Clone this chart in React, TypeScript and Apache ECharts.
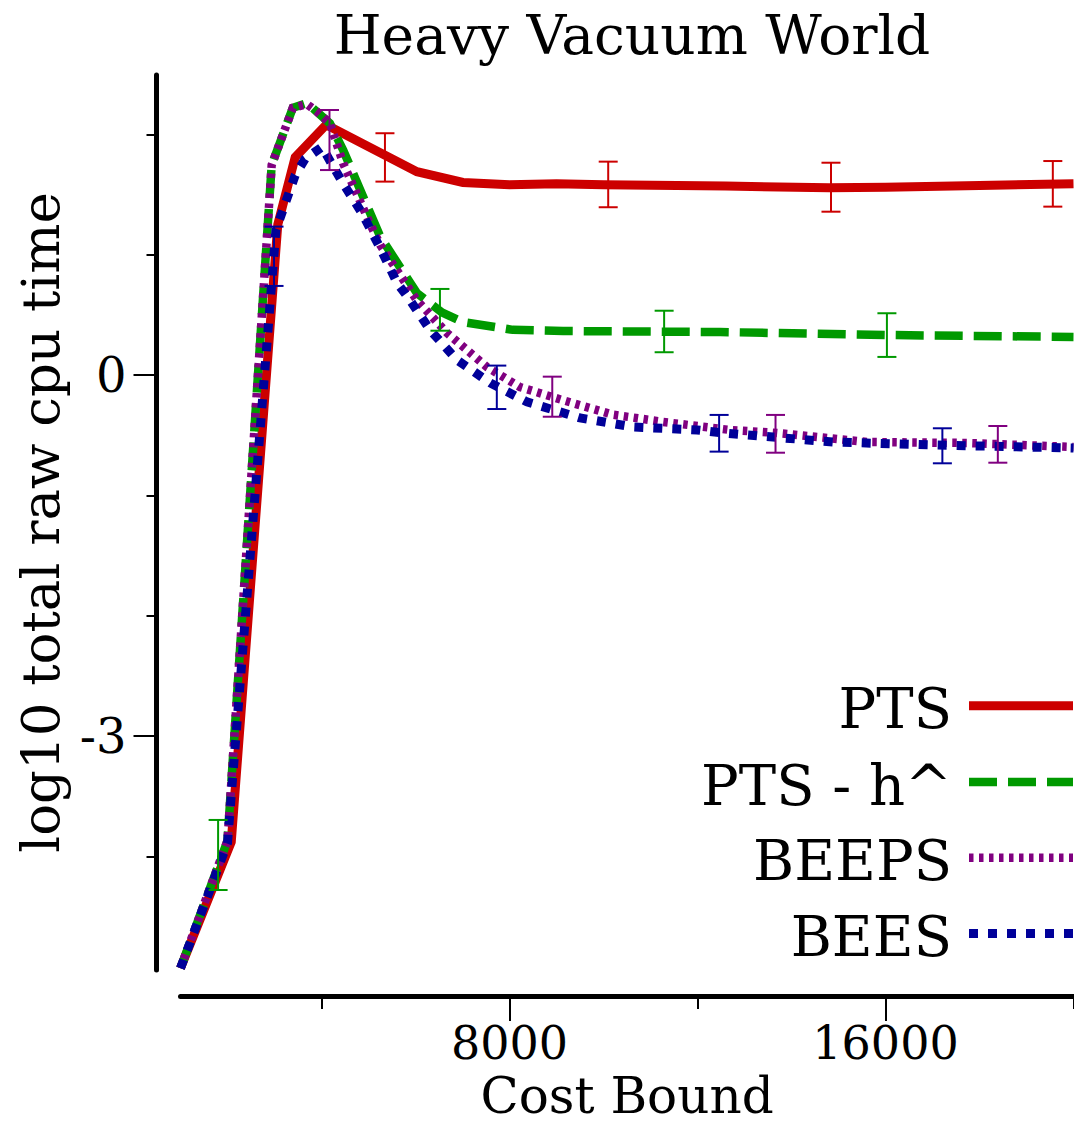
import React, { useEffect, useRef } from 'react';
import * as echarts from 'echarts';

const FONT = '"DejaVu Serif", "Liberation Serif", serif';

const seriesNames = ['PTS', 'PTS - h^', 'BEEPS', 'BEES'];
const seriesColors = ['#cc0000', '#009900', '#800080', '#000099'];

const redX = [1000, 2080, 3070, 3440, 4100, 6030, 7010, 8000, 9000, 10000, 12600, 14800, 16000, 18000, 20000];
const redY = [-4.93, -3.88, 1.25, 1.81, 2.08, 1.69, 1.6, 1.58, 1.59, 1.58, 1.57, 1.555, 1.56, 1.575, 1.59];

const greenX = [1000, 2000, 2940, 3390, 3690, 4180, 4460, 5030, 5250, 6030, 6560, 7010, 8070, 9140, 12480, 16030, 20000];
const greenY = [-4.93, -3.87, 1.745, 2.22, 2.26, 2.09, 1.87, 1.35, 1.15, 0.68, 0.52, 0.44, 0.375, 0.365, 0.357, 0.332, 0.316];

const purpleX = [1000, 2000, 2940, 3390, 3690, 3900, 4180, 4460, 5030, 5250, 6030, 6670, 7520, 8220, 9140, 10200, 11270, 12690, 13690, 15610, 17730, 20000];
const purpleY = [-4.93, -3.87, 1.745, 2.22, 2.25, 2.19, 2.09, 1.76, 1.26, 1.08, 0.62, 0.35, 0.066, -0.1, -0.21, -0.33, -0.39, -0.457, -0.482, -0.557, -0.565, -0.598];

const blueX = [1000, 2000, 3030, 3440, 3650, 4010, 4440, 4860, 5250, 5610, 5880, 6310, 6880, 7590, 8370, 9500, 10630, 11990, 12540, 14880, 17010, 20000];
const blueY = [-4.93, -3.89, 1.205, 1.66, 1.795, 1.895, 1.604, 1.346, 1.055, 0.765, 0.623, 0.374, 0.125, -0.066, -0.224, -0.357, -0.432, -0.457, -0.482, -0.557, -0.582, -0.607];

// error bars: [x, low, high]
const redErr = [[5350, 1.607, 2.009], [10100, 1.394, 1.773], [14840, 1.357, 1.764], [19560, 1.399, 1.778]];
const greenErr = [[1800, -4.28, -3.698], [6520, 0.368, 0.715], [11290, 0.189, 0.534], [16030, 0.15, 0.513]];
const purpleErr = [[4170, 1.703, 2.202], [8910, -0.347, -0.014], [13660, -0.646, -0.332], [18390, -0.729, -0.424]];
const blueErr = [[2990, 0.74, 1.233], [7730, -0.283, 0.078], [12460, -0.637, -0.332], [17210, -0.734, -0.443]];

const xMinorTicks = [4000, 12000, 20000];
const xMajorTicks = [8000, 16000];
const yMinorTicks = [-4, -2, -1, 1, 2];
const yMajorTicks = [-3, 0];

const title = 'Heavy Vacuum World';
const xName = 'Cost Bound';
const yName = 'log10 total raw cpu time';

const zip = (xs: number[], ys: number[]) => xs.map((x, i) => [x, ys[i]]);

const lineData = [zip(redX, redY), zip(greenX, greenY), zip(purpleX, purpleY), zip(blueX, blueY)];
const errData = [redErr, greenErr, purpleErr, blueErr];
const lineTypes: any[] = ['solid', [28, 11], [4.5, 5.5], [9, 10]];
const lineWidths = [9, 8.5, 8.5, 9];

export default function App() {
  const ref = useRef<HTMLDivElement>(null);
  useEffect(() => {
    if (!ref.current) return;
    const chart = echarts.init(ref.current, undefined, { renderer: 'svg' });

    const lineSeries = lineData.map((d, i) => ({
      type: 'line',
      name: seriesNames[i],
      data: d,
      xAxisIndex: 0,
      yAxisIndex: 0,
      showSymbol: false,
      symbol: 'none',
      z: 2 + i,
      lineStyle: { color: seriesColors[i], width: lineWidths[i], type: lineTypes[i], cap: 'butt', join: 'miter' },
      itemStyle: { color: seriesColors[i] },
    }));

    const errSeries = errData.map((d, i) => ({
      type: 'custom',
      name: seriesNames[i] + ' err',
      data: d,
      xAxisIndex: 0,
      yAxisIndex: 0,
      z: 10,
      encode: { x: 0, y: [1, 2] },
      renderItem: (params: any, api: any) => {
        const x = api.value(0);
        const lo = api.coord([x, api.value(1)]);
        const hi = api.coord([x, api.value(2)]);
        const hw = 9.5;
        const st = { stroke: seriesColors[i], lineWidth: 2 };
        return {
          type: 'group',
          children: [
            { type: 'line', shape: { x1: lo[0], y1: lo[1], x2: hi[0], y2: hi[1] }, style: st },
            { type: 'line', shape: { x1: lo[0] - hw, y1: lo[1], x2: lo[0] + hw, y2: lo[1] }, style: st },
            { type: 'line', shape: { x1: hi[0] - hw, y1: hi[1], x2: hi[0] + hw, y2: hi[1] }, style: st },
          ],
        };
      },
    }));

    const legendY = [705.7, 782, 857.7, 933.5];
    const legendGraphics: any[] = [];
    seriesNames.forEach((n, i) => {
      legendGraphics.push({
        type: 'text',
        x: 952,
        y: legendY[i] + 3,
        style: {
          text: n,
          fill: '#000',
          font: `56px ${FONT}`,
          textAlign: 'right',
          textVerticalAlign: 'middle',
        },
      });
      legendGraphics.push({
        type: 'line',
        shape: { x1: 969, y1: legendY[i], x2: 1073, y2: legendY[i] },
        style: {
          stroke: seriesColors[i],
          lineWidth: lineWidths[i],
          lineDash: lineTypes[i] === 'solid' ? null : lineTypes[i],
        },
      });
    });

    const fmt = (v: number) => String(v);

    const option: any = {
      animation: false,
      backgroundColor: '#fff',
      title: {
        text: title,
        left: 627,
        top: 2,
        textAlign: 'center',
        textStyle: { fontFamily: FONT, fontSize: 55, fontWeight: 'normal', color: '#000' },
      },
      grid: { left: 180.5, right: 0.5, top: 75, bottom: 156, containLabel: false, outerBoundsMode: 'none' },
      xAxis: [
        {
          type: 'value', min: 1000, max: 20000, position: 'bottom', offset: 26,
          axisLine: { show: true, onZero: false, lineStyle: { color: '#000', width: 5 } },
          axisTick: { show: true, length: 13, customValues: xMinorTicks, lineStyle: { color: '#000', width: 2 } },
          axisLabel: { show: false },
          splitLine: { show: false },
        },
        {
          type: 'value', min: 1000, max: 20000, position: 'bottom', offset: 26,
          axisLine: { show: false, onZero: false },
          axisTick: { show: true, length: 25, customValues: xMajorTicks, lineStyle: { color: '#000', width: 2 } },
          axisLabel: { show: true, customValues: xMajorTicks, formatter: fmt, margin: 24, fontFamily: FONT, fontSize: 46, lineHeight: 46, color: '#000' },
          splitLine: { show: false },
          name: xName,
          nameLocation: 'middle',
          nameGap: 75,
          nameMoveOverlap: false,
          nameTextStyle: { fontFamily: FONT, fontSize: 50, lineHeight: 50, color: '#000' },
        },
      ],
      yAxis: [
        {
          type: 'value', min: -4.945, max: 2.493, position: 'left', offset: 24,
          axisLine: { show: true, onZero: false, lineStyle: { color: '#000', width: 5 } },
          axisTick: { show: true, length: 10, customValues: yMinorTicks, lineStyle: { color: '#000', width: 2 } },
          axisLabel: { show: false },
          splitLine: { show: false },
        },
        {
          type: 'value', min: -4.945, max: 2.493, position: 'left', offset: 24,
          axisLine: { show: false, onZero: false },
          axisTick: { show: true, length: 23, customValues: yMajorTicks, lineStyle: { color: '#000', width: 2 } },
          axisLabel: { show: true, customValues: yMajorTicks, formatter: fmt, margin: 30, fontFamily: FONT, fontSize: 48, color: '#000' },
          splitLine: { show: false },
          name: yName,
          nameLocation: 'middle',
          nameGap: 90,
          nameMoveOverlap: false,
          nameTextStyle: { fontFamily: FONT, fontSize: 53, color: '#000' },
        },
      ],
      graphic: legendGraphics,
      series: [...lineSeries, ...errSeries],
    };
    chart.setOption(option);
    return () => chart.dispose();
  }, []);
  return <div ref={ref} style={{ position: 'absolute', left: 0, top: 0, width: 1074, height: 1126 }} />;
}
